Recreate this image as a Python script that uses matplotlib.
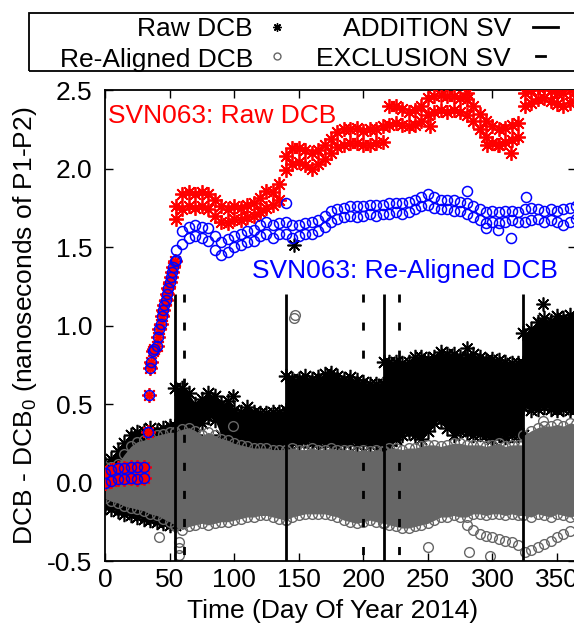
import numpy as np
import matplotlib
matplotlib.use("Agg")
import matplotlib.pyplot as plt
from matplotlib.lines import Line2D
from matplotlib.patches import Rectangle

plt.rcParams['font.family'] = ['Liberation Sans', 'DejaVu Sans']
plt.rcParams['mathtext.fontset'] = 'custom'
plt.rcParams['mathtext.rm'] = 'Liberation Sans'
plt.rcParams['font.size'] = 19
plt.rcParams['axes.unicode_minus'] = False

# envelope of the cloud of all satellites, read off at these days
# (a repeated day is a jump at an SV change)
band_days = [0, 5, 10, 15, 20, 25, 30, 35, 40, 45, 50, 54,
             54, 60, 65, 70, 75, 80, 85, 90, 95, 100, 105, 110, 115, 120, 125, 130, 135, 140,
             140, 145, 150, 155, 160, 165, 170, 175, 180, 185, 190, 195, 200, 205, 210, 215, 216,
             216, 220, 225, 230, 235, 240, 245, 250, 255, 260, 265, 270, 275, 280, 285, 290, 295,
             300, 305, 310, 315, 320, 324,
             324, 330, 335, 340, 345, 350, 355, 360, 365]
raw_top = [0.12, 0.15, 0.20, 0.25, 0.30, 0.32, 0.33, 0.35, 0.33, 0.35, 0.36, 0.36,
           0.60, 0.60, 0.57, 0.50, 0.53, 0.57, 0.55, 0.50, 0.52, 0.46, 0.45, 0.48, 0.45, 0.44, 0.44, 0.45, 0.45, 0.46,
           0.68, 0.66, 0.66, 0.68, 0.66, 0.67, 0.69, 0.70, 0.68, 0.66, 0.67, 0.65, 0.64, 0.63, 0.63, 0.63, 0.63,
           0.77, 0.77, 0.77, 0.76, 0.77, 0.80, 0.80, 0.79, 0.80, 0.83, 0.82, 0.82, 0.80, 0.80, 0.82, 0.80, 0.78,
           0.79, 0.78, 0.77, 0.76, 0.76, 0.76,
           0.95, 0.98, 1.02, 1.05, 1.03, 1.06, 1.05, 1.07, 1.05]
raw_bottom = [-0.15, -0.17, -0.18, -0.20, -0.21, -0.22, -0.23, -0.24, -0.25, -0.26, -0.27, -0.27,
              0.18, 0.20, 0.22, 0.30, 0.38, 0.42, 0.40, 0.30, 0.24, 0.22, 0.21, 0.22, 0.22, 0.22, 0.20, 0.20, 0.20, 0.20,
              0.24, 0.26, 0.25, 0.27, 0.25, 0.26, 0.25, 0.26, 0.24, 0.25, 0.26, 0.24, 0.25, 0.24, 0.25, 0.24, 0.24,
              0.22, 0.24, 0.28, 0.30, 0.32, 0.30, 0.28, 0.33, 0.38, 0.40, 0.35, 0.30, 0.33, 0.32, 0.30, 0.31, 0.30,
              0.28, 0.30, 0.29, 0.30, 0.30, 0.30,
              0.48, 0.46, 0.47, 0.48, 0.47, 0.46, 0.47, 0.46, 0.47]
aligned_top = [0.10, 0.10, 0.12, 0.18, 0.23, 0.26, 0.27, 0.29, 0.30, 0.31, 0.32, 0.32,
               0.32, 0.34, 0.35, 0.33, 0.30, 0.32, 0.30, 0.28, 0.27, 0.25, 0.24, 0.23, 0.22, 0.22, 0.22, 0.21, 0.21, 0.21,
               0.21, 0.22, 0.21, 0.21, 0.22, 0.21, 0.21, 0.22, 0.21, 0.21, 0.21, 0.20, 0.21, 0.20, 0.21, 0.20, 0.20,
               0.20, 0.22, 0.22, 0.21, 0.22, 0.22, 0.23, 0.24, 0.24, 0.23, 0.24, 0.25, 0.25, 0.24, 0.24, 0.24, 0.23,
               0.24, 0.25, 0.23, 0.24, 0.24, 0.24,
               0.30, 0.33, 0.35, 0.36, 0.36, 0.37, 0.36, 0.38, 0.37]
aligned_bottom = [-0.10, -0.12, -0.13, -0.15, -0.16, -0.17, -0.18, -0.20, -0.21, -0.23, -0.25, -0.27,
                  -0.28, -0.30, -0.28, -0.27, -0.26, -0.27, -0.26, -0.25, -0.25, -0.24, -0.23, -0.22, -0.22, -0.21,
                  -0.21, -0.22, -0.23, -0.24,
                  -0.24, -0.22, -0.21, -0.20, -0.20, -0.20, -0.20, -0.21, -0.22, -0.24, -0.25, -0.26, -0.25, -0.24,
                  -0.25, -0.26, -0.26,
                  -0.26, -0.27, -0.28, -0.29, -0.29, -0.28, -0.27, -0.26, -0.24, -0.22, -0.22, -0.21, -0.22, -0.22,
                  -0.20, -0.20, -0.21, -0.20, -0.20, -0.21, -0.20, -0.21, -0.21,
                  -0.21, -0.22, -0.20, -0.21, -0.22, -0.20, -0.21, -0.22, -0.21]

# one re-aligned satellite drifting below the cloud
arm_days = [280, 285, 290, 295, 300, 305, 310, 315, 320, 325, 330, 335, 340, 345, 350, 355, 360]
arm_values = [-0.27, -0.30, -0.33, -0.34, -0.35, -0.36, -0.37, -0.38, -0.40, -0.44, -0.43, -0.41, -0.39,
              -0.37, -0.35, -0.33, -0.31]

# isolated points
raw_out_days = [146, 339, 280, 99]
raw_out_values = [1.51, 1.14, 0.86, 0.55]
aligned_out_days = [146, 147, 99, 42, 57, 57, 57, 250, 282, 298, 339]
aligned_out_values = [1.05, 1.07, 0.36, -0.35, -0.38, -0.42, -0.46, -0.41, -0.44, -0.47, 0.39]

# SVN063
svn_early_days = [0, 5, 10, 15, 20, 25, 30]
svn_early_lo = [0.00, 0.01, 0.02, 0.02, 0.03, 0.02, 0.03]
svn_early_hi = [0.06, 0.08, 0.09, 0.09, 0.10, 0.10, 0.10]
svn_ramp_days = [33, 34, 35, 36, 37, 38, 40, 41, 42, 43, 44, 45, 46, 47, 48, 49, 50, 51, 52, 53, 54]
svn_ramp = [0.32, 0.56, 0.73, 0.77, 0.84, 0.85, 0.87, 0.93, 0.98, 1.01, 1.06, 1.10, 1.13, 1.16, 1.20,
            1.24, 1.28, 1.31, 1.34, 1.37, 1.41]
svn_days = list(range(55, 370, 5))
svn_raw_lo = [1.68, 1.74, 1.76, 1.75, 1.76, 1.74, 1.70, 1.66, 1.65, 1.68, 1.67, 1.69, 1.70, 1.72, 1.75, 1.77,
              1.80, 1.99, 2.03, 2.04, 2.02, 2.00, 2.03, 2.06, 2.10, 2.14, 2.15, 2.16, 2.16, 2.15, 2.15, 2.16,
              2.17, 2.28, 2.29, 2.28, 2.27, 2.28, 2.30, 2.34, 2.36, 2.37, 2.36, 2.37, 2.36, 2.34, 2.30, 2.25,
              2.20, 2.16, 2.15, 2.17, 2.18, 2.20, 2.40, 2.42, 2.44, 2.45, 2.43, 2.41, 2.40, 2.42, 2.44]
svn_raw_hi = [1.76, 1.84, 1.85, 1.84, 1.85, 1.84, 1.80, 1.76, 1.74, 1.76, 1.75, 1.77, 1.78, 1.81, 1.86, 1.85,
              1.90, 2.08, 2.13, 2.13, 2.12, 2.10, 2.12, 2.15, 2.19, 2.23, 2.25, 2.25, 2.26, 2.24, 2.25, 2.25,
              2.27, 2.40, 2.40, 2.38, 2.36, 2.37, 2.40, 2.45, 2.46, 2.47, 2.46, 2.46, 2.45, 2.44, 2.40, 2.35,
              2.30, 2.27, 2.25, 2.26, 2.28, 2.29, 2.48, 2.50, 2.52, 2.52, 2.50, 2.48, 2.48, 2.50, 2.52]
svn_re_lo = [1.42, 1.52, 1.56, 1.57, 1.56, 1.54, 1.48, 1.45, 1.47, 1.50, 1.51, 1.53, 1.54, 1.57, 1.58, 1.56,
             1.58, 1.58, 1.56, 1.57, 1.58, 1.58, 1.60, 1.63, 1.66, 1.68, 1.69, 1.70, 1.69, 1.70, 1.71, 1.70,
             1.71, 1.71, 1.72, 1.71, 1.72, 1.74, 1.76, 1.77, 1.75, 1.74, 1.74, 1.73, 1.73, 1.71, 1.69, 1.67,
             1.65, 1.66, 1.65, 1.66, 1.67, 1.66, 1.66, 1.67, 1.68, 1.66, 1.67, 1.66, 1.64, 1.66, 1.68]
svn_re_hi = [1.48, 1.60, 1.63, 1.64, 1.63, 1.62, 1.57, 1.53, 1.55, 1.57, 1.58, 1.60, 1.61, 1.64, 1.66, 1.64,
             1.65, 1.66, 1.64, 1.64, 1.65, 1.66, 1.67, 1.70, 1.73, 1.74, 1.75, 1.76, 1.76, 1.76, 1.77, 1.77,
             1.77, 1.78, 1.78, 1.78, 1.79, 1.80, 1.82, 1.84, 1.82, 1.80, 1.80, 1.80, 1.79, 1.78, 1.76, 1.74,
             1.72, 1.73, 1.72, 1.73, 1.73, 1.72, 1.74, 1.75, 1.74, 1.73, 1.74, 1.73, 1.74, 1.75, 1.76]
svn_raw_out_days = [252, 280, 296, 304, 314]
svn_raw_out = [2.27, 2.48, 2.15, 2.15, 2.10]
svn_re_out_days = [140, 280, 326, 314, 304, 295]
svn_re_out = [1.78, 1.86, 1.82, 1.56, 1.61, 1.62]

addition_days = [54, 140, 216, 324]
exclusion_days = [61, 200, 228]

x_ticks = [0, 50, 100, 150, 200, 250, 300, 350]
y_ticks = [-0.5, 0.0, 0.5, 1.0, 1.5, 2.0, 2.5]

GRAY = '#666666'
STAR = (8, 2, 0)

fig = plt.figure(figsize=(5.74, 6.31), dpi=100)
ax = fig.add_axes([0.1829, 0.1109, 0.8213, 0.7464])

# cloud of raw DCBs (black) with the re-aligned cloud over it (gray)
ax.fill_between(band_days, raw_bottom, raw_top, color='black', lw=0, zorder=1)
for edge in (raw_top, raw_bottom):
    ax.plot(band_days, edge, ls='none', marker=STAR, ms=11, mec='black', mew=1.2, zorder=1.2)
ax.plot(raw_out_days, raw_out_values, ls='none', marker=STAR, ms=10, mec='black', mew=1.2, zorder=1.2)

ax.fill_between(band_days, aligned_bottom, aligned_top, color=GRAY, lw=0, zorder=2)
for edge in (aligned_top, aligned_bottom):
    ax.plot(band_days, edge, ls='none', marker='o', ms=7, mfc='none', mec=GRAY, mew=1, zorder=2.2)
ax.plot(arm_days, arm_values, ls='none', marker='o', ms=7, mfc='none', mec=GRAY, mew=1, zorder=2.2)
ax.plot(aligned_out_days, aligned_out_values, ls='none', marker='o', ms=7, mfc='none', mec=GRAY, mew=1,
        zorder=2.2)

# SV changes
ax.vlines(addition_days, -0.5, 1.2, colors='black', lw=2, zorder=3)
ax.vlines(exclusion_days, 1.2, -0.5, colors='black', lw=2, linestyles=(0, (2.9, 7.2)), zorder=3)

# SVN063
red_kw = dict(ls='none', marker=STAR, ms=10.5, mec='red', mew=1.3, zorder=4)
blue_kw = dict(ls='none', marker='o', ms=7.2, mfc='none', mec='blue', mew=1.1, zorder=4.2)
for vals in (svn_early_lo, svn_early_hi):
    ax.plot(svn_early_days, vals, **red_kw)
    ax.plot(svn_early_days, vals, **blue_kw)
ax.plot(svn_ramp_days, svn_ramp, **red_kw)
ax.plot(svn_ramp_days, svn_ramp, **blue_kw)
for vals in (svn_raw_lo, svn_raw_hi):
    ax.plot(svn_days, vals, **red_kw)
ax.plot(svn_raw_out_days, svn_raw_out, **red_kw)
for vals in (svn_re_lo, svn_re_hi):
    ax.plot(svn_days, vals, **blue_kw)
ax.plot(svn_re_out_days, svn_re_out, **blue_kw)

ax.text(2, 2.29, 'SVN063: Raw DCB', color='red', fontsize=19, va='baseline', ha='left', zorder=5)
ax.text(114, 1.30, 'SVN063: Re-Aligned DCB', color='blue', fontsize=19, va='baseline', ha='left', zorder=5)

ax.set_xlim(0, 365)
ax.set_ylim(-0.5, 2.5)
ax.set_xticks(x_ticks)
ax.set_yticks(y_ticks)
ax.set_yticklabels(['%.1f' % v for v in y_ticks])
ax.tick_params(direction='in', length=6, width=1, top=True, right=True, labelsize=19)
ax.tick_params(axis='x', pad=5)
ax.tick_params(axis='y', pad=9)
for sp in ax.spines.values():
    sp.set_linewidth(1.3)

ax.set_xlabel('Time (Day Of Year 2014)', fontsize=19)
ax.xaxis.set_label_coords(0.483, -0.08)
ax.set_ylabel(r'DCB - DCB$_{0}$ (nanoseconds of P1-P2)', fontsize=19)
ax.yaxis.set_label_coords(-0.139, 0.5)

# key box at the top
W, H = 574.0, 631.0
fig.patches.append(Rectangle((29 / W, 1 - 71 / H), 0.99, 58 / H, transform=fig.transFigure,
                             fill=False, lw=1.3, edgecolor='black'))
row1, row2 = 1 - 36.5 / H, 1 - 66.5 / H
mid1, mid2 = 1 - 26.5 / H, 1 - 56 / H
fig.text(253 / W, row1, 'Raw DCB', ha='right', va='baseline', fontsize=19)
fig.text(253 / W, row2, 'Re-Aligned DCB', ha='right', va='baseline', fontsize=19)
fig.text(511 / W, row1, 'ADDITION SV', ha='right', va='baseline', fontsize=19)
fig.text(511 / W, row2, 'EXCLUSION SV', ha='right', va='baseline', fontsize=19)
fig.add_artist(Line2D([277 / W], [mid1], marker=STAR, ms=6, mec='black', mew=1, ls='none',
                      transform=fig.transFigure))
fig.add_artist(Line2D([277 / W], [mid2], marker='o', ms=5, mfc='none', mec=GRAY, mew=1, ls='none',
                      transform=fig.transFigure))
fig.add_artist(Line2D([533 / W, 558 / W], [mid1, mid1], color='black', lw=2, transform=fig.transFigure))
fig.add_artist(Line2D([536 / W, 545 / W], [mid2, mid2], color='black', lw=2, transform=fig.transFigure))

fig.savefig('out.png', dpi=100)
